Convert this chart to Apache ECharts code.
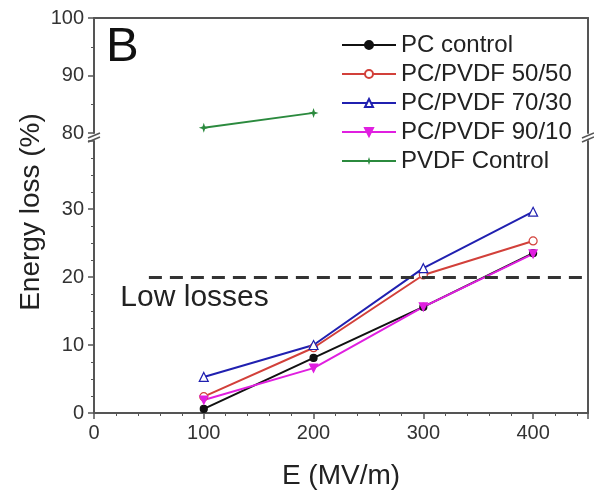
<!DOCTYPE html>
<html>
<head>
<meta charset="utf-8">
<script src="https://cdn.jsdelivr.net/npm/echarts@6/dist/echarts.min.js"></script>
<style>
html, body { margin: 0; padding: 0; background: #fff; }
#chart { width: 594px; height: 493px; }
</style>
</head>
<body>
<div id="chart"></div>
<script>
// E field (MV/m)
var e_field = [100, 200, 300, 400];
var pc_control = [0.6, 8.1, 15.6, 23.5];
var pvdf_5050 = [2.4, 9.6, 20.3, 25.3];
var pvdf_7030 = [5.3, 10.0, 21.3, 29.6];
var pvdf_9010 = [1.9, 6.6, 15.6, 23.4];
var pvdf_control = [80.9, 83.5];
var low_loss_level = 20;

var font = 'Liberation Sans, Arial, sans-serif';
var axis_color = '#555';

function pairs(xs, ys){
	return ys.map((y, i) => [xs[i], y]);
}

var chart = echarts.init(document.getElementById('chart'));

var lower_series = [
	{ name: 'PC control', vals: pc_control, color: '#111111', symbol: 'circle', fill: '#111111', rot: 0, size: 7 },
	{ name: 'PC/PVDF 50/50', vals: pvdf_5050, color: '#d2403a', symbol: 'circle', fill: '#ffffff', rot: 0, size: 8 },
	{ name: 'PC/PVDF 70/30', vals: pvdf_7030, color: '#2020b0', symbol: 'triangle', fill: '#ffffff', rot: 0, size: 9 },
	{ name: 'PC/PVDF 90/10', vals: pvdf_9010, color: '#e01fe0', symbol: 'triangle', fill: '#e01fe0', rot: 180, size: 8 }
].map(s => ({
	name: s.name,
	type: 'line',
	xAxisIndex: 1,
	yAxisIndex: 1,
	symbol: s.symbol,
	symbolSize: s.size,
	symbolRotate: s.rot,
	data: pairs(e_field, s.vals),
	lineStyle: { color: s.color, width: 2 },
	itemStyle: { color: s.fill, borderColor: s.color, borderWidth: 1.2 },
	z: 3
}));

// dashed "low losses" line
lower_series[0].markLine = {
	silent: true,
	symbol: 'none',
	label: { show: false },
	lineStyle: { color: '#333', width: 3, type: [13, 8] },
	data: [[{ coord: [50, low_loss_level] }, { coord: [450, low_loss_level] }]]
};

var star = 'path://M0,-10 L2.5,-2.5 L10,0 L2.5,2.5 L0,10 L-2.5,2.5 L-10,0 L-2.5,-2.5 Z';

var all_series = lower_series.concat([{
	name: 'PVDF Control',
	type: 'line',
	xAxisIndex: 0,
	yAxisIndex: 0,
	symbol: star,
	symbolSize: 10,
	data: pairs(e_field, pvdf_control),
	lineStyle: { color: '#2b8a3e', width: 2 },
	itemStyle: { color: '#2b8a3e' }
}]);

var tick_label = { color: '#333', fontSize: 20, fontFamily: font };
var frame_line = { show: true, onZero: false, lineStyle: { color: axis_color, width: 2 } };

chart.setOption({
	animation: false,
	grid: [
		{ left: 94, right: 6, top: 18, height: 115, outerBoundsMode: 'none' },
		{ left: 94, right: 6, top: 141, height: 272, outerBoundsMode: 'none' }
	],
	legend: {
		orient: 'vertical',
		left: 336,
		top: 28,
		itemWidth: 54,
		itemHeight: 10,
		itemGap: 5,
		textStyle: { color: '#222', fontSize: 24, fontFamily: font },
		data: all_series.map(s => s.name)
	},
	xAxis: [
		{
			gridIndex: 0, type: 'value', min: 0, max: 450, position: 'top',
			axisLine: frame_line,
			axisTick: { show: false }, axisLabel: { show: false }, splitLine: { show: false }
		},
		{
			gridIndex: 1, type: 'value', min: 0, max: 450, interval: 100,
			name: 'E (MV/m)', nameLocation: 'middle', nameGap: 49,
			nameTextStyle: { color: '#222', fontSize: 28, fontFamily: font },
			axisLine: frame_line,
			axisTick: { show: true, inside: false, length: 6, lineStyle: { color: axis_color, width: 1.5 } },
			minorTick: { show: true, splitNumber: 5, length: 3, lineStyle: { color: axis_color } },
			axisLabel: Object.assign({ margin: 10, showMaxLabel: false }, tick_label),
			splitLine: { show: false }
		}
	],
	yAxis: [
		{
			gridIndex: 0, type: 'value', min: 80, max: 100, interval: 10,
			axisLine: frame_line,
			axisTick: { show: true, length: 6, lineStyle: { color: axis_color, width: 1.5 } },
			minorTick: { show: true, splitNumber: 2, length: 3, lineStyle: { color: axis_color } },
			axisLabel: Object.assign({ margin: 10 }, tick_label),
			splitLine: { show: false }
		},
		{
			gridIndex: 1, type: 'value', min: 0, max: 40, interval: 10,
			axisLine: frame_line,
			axisTick: { show: true, length: 6, lineStyle: { color: axis_color, width: 1.5 } },
			minorTick: { show: true, splitNumber: 4, length: 3, lineStyle: { color: axis_color } },
			axisLabel: Object.assign({ margin: 10, showMaxLabel: false }, tick_label),
			splitLine: { show: false }
		},
		{
			gridIndex: 0, type: 'value', position: 'right',
			axisLine: frame_line,
			axisTick: { show: false }, axisLabel: { show: false }, splitLine: { show: false }
		},
		{
			gridIndex: 1, type: 'value', position: 'right',
			axisLine: frame_line,
			axisTick: { show: false }, axisLabel: { show: false }, splitLine: { show: false }
		}
	],
	series: all_series
});

// annotations: panel letter, y title, "Low losses", axis break marks
var txt_pos = chart.convertToPixel({ xAxisIndex: 1, yAxisIndex: 1 }, [24, 17]);
var left_x = chart.convertToPixel({ xAxisIndex: 1 }, 0);
var right_x = chart.convertToPixel({ xAxisIndex: 1 }, 450);
var brk_y = 137;

function break_mark(x){
	return [
		{ type: 'line', shape: { x1: x - 6, y1: brk_y + 1, x2: x + 6, y2: brk_y - 4 }, style: { stroke: axis_color, lineWidth: 1.5 } },
		{ type: 'line', shape: { x1: x - 6, y1: brk_y + 5, x2: x + 6, y2: brk_y }, style: { stroke: axis_color, lineWidth: 1.5 } }
	];
}

chart.setOption({
	graphic: [
		{
			type: 'text', x: 106, y: 47,
			style: { text: 'B', fontSize: 49, fontFamily: font, fill: '#111', align: 'left', verticalAlign: 'middle' }
		},
		{
			type: 'text', x: 31, y: 212, rotation: Math.PI / 2,
			style: { text: 'Energy loss (%)', fontSize: 28, fontFamily: font, fill: '#222', align: 'center', verticalAlign: 'middle' }
		},
		{
			type: 'text', x: txt_pos[0], y: txt_pos[1],
			style: { text: 'Low losses', fontSize: 30, fontFamily: font, fill: '#222', align: 'left', verticalAlign: 'middle' }
		}
	].concat(break_mark(left_x), break_mark(right_x))
});
</script>
</body>
</html>
